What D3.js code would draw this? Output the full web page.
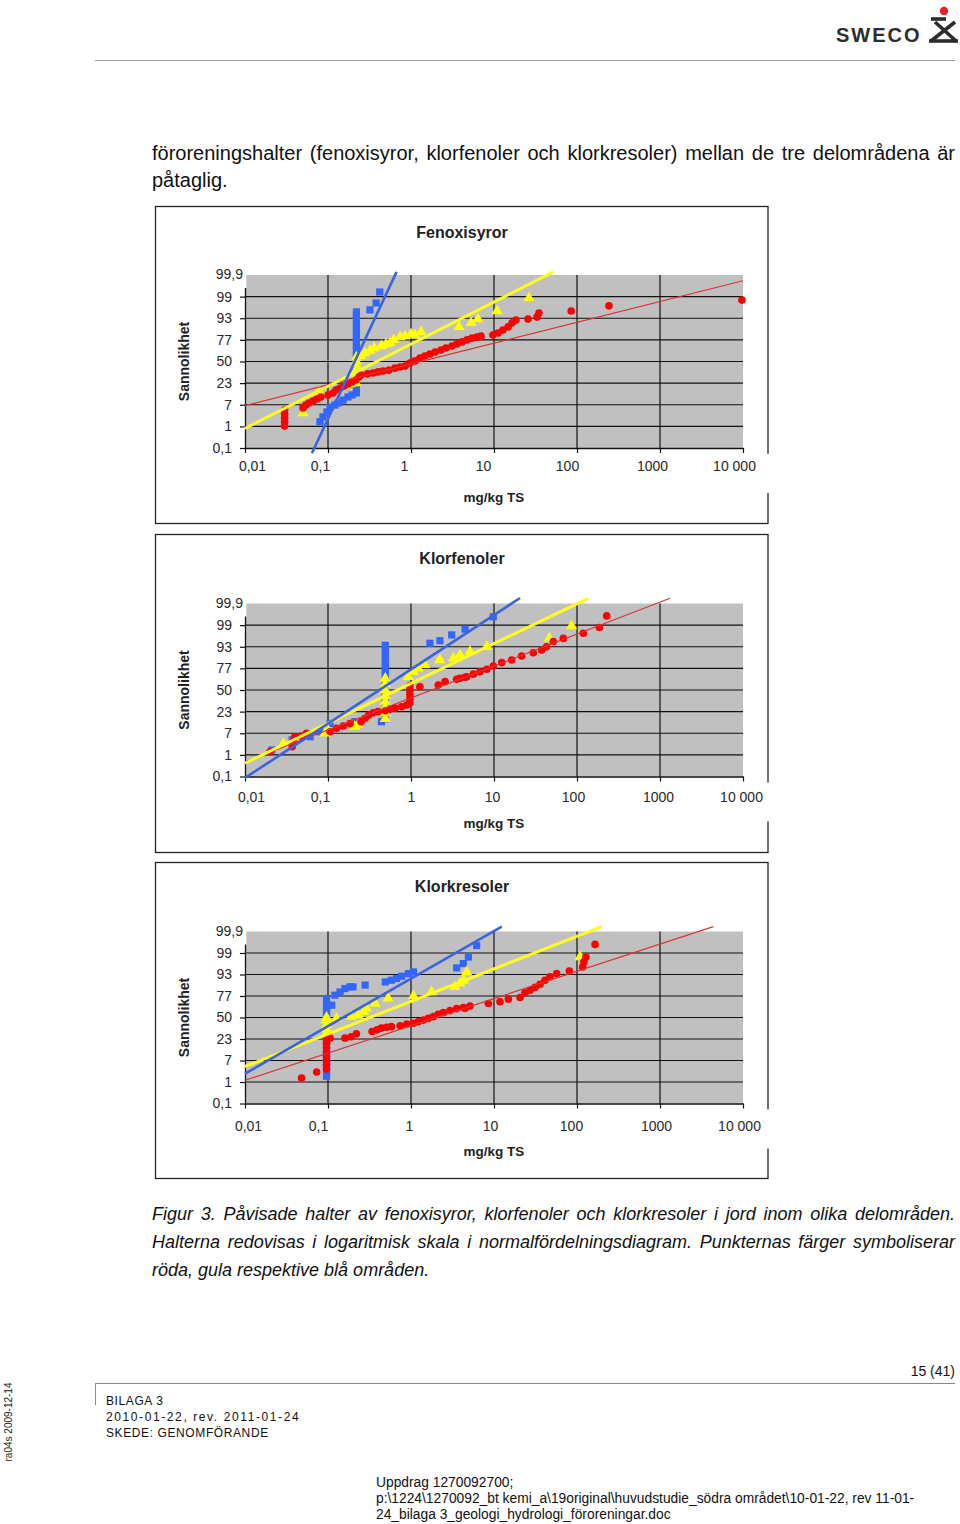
<!DOCTYPE html>
<html><head><meta charset="utf-8">
<script src="https://cdn.jsdelivr.net/npm/d3@7"></script>
<style>
html,body{margin:0;padding:0;background:#fff;}
svg{display:block;}
text{font-family:"Liberation Sans",Arial,Helvetica,sans-serif;}
</style></head><body>
<svg id="page" width="960" height="1524"></svg>
<script>
// ---------------- DATA ----------------
// x: concentration mg/kg TS (log axis); z: normal score (probability axis)
const xTickValues = [0.01, 0.1, 1, 10, 100, 1000, 10000];
const xTickLabels = ["0,01", "0,1", "1", "10", "100", "1000", "10 000"];
const yTickScores = [-3, -2.25, -1.5, -0.75, 0, 0.75, 1.5, 2.25, 3];
const yTickLabels = ["0,1", "1", "7", "23", "50", "77", "93", "99", "99,9"];
const chartTitles = ["Fenoxisyror", "Klorfenoler", "Klorkresoler"];
const yAxisTitle = "Sannolikhet";
const xAxisTitle = "mg/kg TS";

// Fenoxisyror
const fenoxRed = [[0.030,-1.68],[0.030,-1.82],[0.030,-1.96],[0.030,-2.10],[0.030,-2.24],
 [0.050,-1.61],[0.054,-1.51],[0.059,-1.44],[0.066,-1.37],[0.074,-1.30],[0.082,-1.23],
 [0.10,-1.16],[0.115,-1.09],[0.125,-0.99],[0.14,-0.92],[0.156,-0.85],[0.174,-0.78],[0.195,-0.71],[0.217,-0.64],[0.236,-0.54],[0.25,-0.47],
 [0.30,-0.43],[0.35,-0.40],[0.40,-0.36],[0.46,-0.33],[0.54,-0.30],[0.64,-0.23],[0.74,-0.19],[0.85,-0.16],[0.97,-0.05],
 [1.12,0.02],[1.28,0.12],[1.47,0.19],[1.69,0.26],[1.95,0.33],[2.3,0.40],[2.64,0.47],[3.12,0.54],[3.58,0.61],[4.12,0.68],[4.73,0.75],[5.43,0.81],[6.24,0.85],[6.97,0.88],
 [9.7,0.92],[11.2,0.99],[12.8,1.09],[14.8,1.20],[16.5,1.34],[18.4,1.44],[25.7,1.47],[33,1.54],[34.8,1.68],[85,1.75],[243,1.93],[9700,2.13]];
const fenoxYellow = [[0.050,-1.79],[0.078,-1.06],[0.16,-0.85],[0.184,-0.78],[0.217,-0.75],
 [0.22,-0.6],[0.22,-0.45],[0.22,-0.3],[0.22,-0.15],[0.22,0.0],[0.22,0.15],
 [0.25,0.19],[0.28,0.29],[0.32,0.37],[0.36,0.47],[0.44,0.54],[0.50,0.60],[0.56,0.64],[0.62,0.75],[0.74,0.85],[0.85,0.88],[1.0,0.95],[1.12,0.92],[1.32,1.02],
 [3.79,1.20],[5.28,1.34],[6.41,1.47],[10.9,1.75],[26.4,2.20]];
const fenoxBlue = [[0.080,-2.09],[0.087,-1.92],[0.097,-1.75],[0.106,-1.58],[0.121,-1.51],[0.132,-1.44],[0.152,-1.34],[0.174,-1.23],[0.195,-1.16],[0.22,-1.09],
 [0.22,-0.95],[0.22,-0.8],[0.22,-0.65],[0.22,-0.5],[0.22,-0.35],[0.22,-0.2],[0.22,-0.05],[0.22,0.1],[0.22,0.25],[0.22,0.4],[0.22,0.55],[0.22,0.7],[0.22,0.85],[0.22,1.0],[0.22,1.15],[0.22,1.3],[0.22,1.45],[0.22,1.6],[0.22,1.72],
 [0.32,1.79],[0.38,2.03],[0.42,2.41]];
const fenoxRedTrend = [[0.01,-1.53],[10000,2.80]];
const fenoxYellowTrend = [[0.01,-2.32],[52,3.11]];
const fenoxBlueTrend = [[0.064,-3.18],[0.67,3.11]];

// Klorfenoler
const klorfRed = [[0.020,-2.14],[0.037,-1.97],[0.038,-1.79],[0.040,-1.62],[0.048,-1.60],[0.055,-1.50],
 [0.106,-1.45],[0.127,-1.33],[0.153,-1.25],[0.184,-1.16],[0.25,-1.10],[0.28,-0.98],[0.31,-0.87],[0.35,-0.79],[0.40,-0.75],[0.49,-0.72],[0.56,-0.67],[0.64,-0.63],[0.77,-0.58],[0.89,-0.52],
 [0.97,-0.45],[0.97,-0.3],[0.97,-0.15],[0.97,0.0],[0.97,0.15],
 [1.28,0.11],[2.13,0.17],[2.57,0.29],[3.55,0.37],[3.89,0.41],[4.48,0.44],[4.69,0.46],[5.64,0.55],[6.78,0.63],[8.2,0.72],[9.8,0.83],[12.4,0.95],[16.3,1.04],[21.5,1.18],[29.7,1.29],[37.5,1.39],[43,1.50],[51.8,1.68],[68.4,1.79],[119,1.97],[186,2.17],[228,2.57]];
const klorfYellow = [[0.029,-1.85],[0.092,-1.50],[0.10,-1.39],[0.21,-1.27],[0.23,-1.21],
 [0.49,-1.0],[0.49,-0.8],[0.49,-0.6],[0.49,-0.4],[0.49,-0.2],[0.49,0.0],[0.49,0.2],[0.49,0.4],
 [0.93,0.46],[1.07,0.63],[1.22,0.75],[1.47,0.87],[2.23,1.04],[3.24,1.10],[3.89,1.21],[5.14,1.33],[8.2,1.50],[46.4,1.79],[86,2.22]];
const klorfBlue = [[0.021,-2.08],[0.037,-1.73],[0.061,-1.62],[0.080,-1.45],[0.106,-1.16],[0.21,-1.10],[0.44,-1.10],
 [0.49,-1.0],[0.49,-0.85],[0.49,-0.7],[0.49,-0.55],[0.49,-0.4],[0.49,-0.25],[0.49,-0.1],[0.49,0.05],[0.49,0.2],[0.49,0.35],[0.49,0.5],[0.49,0.65],[0.49,0.8],[0.49,0.95],[0.49,1.1],[0.49,1.25],[0.49,1.4],[0.49,1.55],
 [1.69,1.62],[2.23,1.71],[3.09,1.91],[4.48,2.11],[9.8,2.54]];
const klorfRedTrend = [[0.01,-2.49],[1320,3.18]];
const klorfYellowTrend = [[0.01,-2.54],[137,3.18]];
const klorfBlueTrend = [[0.01,-3.05],[20.6,3.19]];

// Klorkresoler
const klorkRed = [[0.048,-2.11],[0.073,-1.90],
 [0.096,-1.8],[0.096,-1.65],[0.096,-1.5],[0.096,-1.35],[0.096,-1.2],[0.096,-1.05],[0.096,-0.9],[0.096,-0.75],
 [0.106,-0.72],[0.16,-0.72],[0.19,-0.67],[0.22,-0.57],[0.34,-0.49],[0.39,-0.43],[0.44,-0.37],[0.51,-0.34],[0.58,-0.32],[0.74,-0.29],[0.89,-0.23],[1.07,-0.20],[1.22,-0.15],[1.41,-0.09],[1.62,-0.03],[1.86,0.03],[2.13,0.11],[2.45,0.17],[2.95,0.24],[3.55,0.31],[4.27,0.35],[4.48,0.32],[5.14,0.40],
 [8.55,0.49],[11.8,0.55],[14.9,0.64],[20.6,0.70],[23.6,0.86],[27.2,0.95],[31.2,1.05],[35.8,1.16],[41.1,1.30],[47.3,1.42],[56.9,1.53],[80.9,1.62],[117,1.76],[121,1.94],[128,2.11],[165,2.55]];
const klorkYellow = [[0.096,-0.55],[0.096,-0.4],[0.096,-0.25],[0.096,-0.1],[0.096,0.0],
 [0.127,-0.03],[0.19,0.03],[0.23,0.09],[0.27,0.20],[0.29,0.32],[0.37,0.49],[0.53,0.67],[1.07,0.75],[1.77,0.89],[3.39,1.07],[3.89,1.19],[4.3,1.30],[4.69,1.59],[109,2.11]];
const klorkBlue = [[0.096,-2.05],[0.096,-1.9],[0.096,-1.75],[0.096,-1.6],[0.096,-1.45],[0.096,-1.3],[0.096,-1.15],[0.096,-1.0],[0.096,-0.85],[0.096,-0.7],[0.096,-0.55],[0.096,-0.4],[0.096,-0.25],[0.096,-0.1],[0.096,0.05],[0.096,0.2],[0.096,0.35],[0.096,0.5],[0.096,0.65],
 [0.111,0.43],[0.121,0.78],[0.14,0.89],[0.16,1.01],[0.184,1.07],[0.20,1.07],[0.28,1.13],[0.49,1.24],[0.58,1.30],[0.67,1.36],[0.77,1.44],[0.93,1.53],[1.07,1.59],[3.55,1.73],[4.27,1.88],[4.91,2.11],[6.18,2.51]];
const klorkRedTrend = [[0.01,-2.19],[4390,3.17]];
const klorkYellowTrend = [[0.01,-1.71],[198,3.17]];
const klorkBlueTrend = [[0.01,-1.96],[12.4,3.17]];

// ---------------- PAGE TEXT ----------------
const paraLines = ["föroreningshalter (fenoxisyror, klorfenoler och klorkresoler) mellan de tre delområdena är", "påtaglig."];
const captionLines = ["Figur 3. Påvisade halter av fenoxisyror, klorfenoler och klorkresoler i jord inom olika delområden.",
 "Halterna redovisas i logaritmisk skala i normalfördelningsdiagram. Punkternas färger symboliserar",
 "röda, gula respektive blå områden."];
const footerLeft = ["BILAGA 3", "2010-01-22, rev. 2011-01-24", "SKEDE: GENOMFÖRANDE"];
const footerRight = ["Uppdrag 1270092700;", "p:\\1224\\1270092_bt kemi_a\\19original\\huvudstudie_södra området\\10-01-22, rev 11-01-", "24_bilaga 3_geologi_hydrologi_föroreningar.doc"];

// ---------------- DRAW ----------------
const svg = d3.select("#page");
const FONT = "'Liberation Sans', Arial, sans-serif";
const col = {red:"#ff0000", yellow:"#ffff00", blue:"#3366ff", redLine:"#d83535", yellowLine:"#ffff1a", blueLine:"#3a64e0"};

const x = d3.scaleLog().domain([0.01, 10000]).range([245, 743]);

const layouts = [
  {box:[206,523], plot:[275,448], titleY:238, tickY:471, unitY:502, dx:[7,-8,-7,-11,-10,-8,-9]},
  {box:[534,852], plot:[603.5,776.5], titleY:564, tickY:802, unitY:828, dx:[6,-8,0,-2,-4,-2,-2]},
  {box:[862,1178], plot:[931.5,1103.5], titleY:892, tickY:1131, unitY:1156, dx:[3,-10,-2,-4,-6,-4,-4]}
];
const seriesSets = [
  {red:fenoxRed, yellow:fenoxYellow, blue:fenoxBlue, trends:[[fenoxRedTrend,"redLine",1.2],[fenoxYellowTrend,"yellowLine",3],[fenoxBlueTrend,"blueLine",2.6]]},
  {red:klorfRed, yellow:klorfYellow, blue:klorfBlue, trends:[[klorfRedTrend,"redLine",1.2],[klorfYellowTrend,"yellowLine",3],[klorfBlueTrend,"blueLine",2.6]]},
  {red:klorkRed, yellow:klorkYellow, blue:klorkBlue, trends:[[klorkRedTrend,"redLine",1.2],[klorkYellowTrend,"yellowLine",3],[klorkBlueTrend,"blueLine",2.6]]}
];

layouts.forEach((L, ci) => {
  const S = seriesSets[ci];
  const g = svg.append("g");
  const y = d3.scaleLinear().domain([-3, 3]).range([L.plot[1], L.plot[0]]);
  const [x0, x1] = x.range();

  g.append("rect").attr("x", 155.5).attr("y", L.box[0] + 0.5).attr("width", 612.5).attr("height", L.box[1] - L.box[0])
    .attr("fill", "#fff").attr("stroke", "#262626").attr("stroke-width", 1.3);
  g.append("rect").attr("x", 722).attr("y", L.plot[1] + 6).attr("width", 50).attr("height", 39).attr("fill", "#fff");

  g.append("rect").attr("x", x0).attr("y", L.plot[0]).attr("width", x1 - x0).attr("height", L.plot[1] - L.plot[0]).attr("fill", "#c0c0c0");

  g.selectAll(".hg").data(yTickScores.filter(d => d > -3 && d < 3)).join("line")
    .attr("x1", x0).attr("x2", x1).attr("y1", d => y(d)).attr("y2", d => y(d))
    .attr("stroke", "#111").attr("stroke-width", 1.2);
  g.selectAll(".vg").data(xTickValues.slice(1, -1)).join("line")
    .attr("x1", d => x(d)).attr("x2", d => x(d)).attr("y1", L.plot[0]).attr("y2", L.plot[1])
    .attr("stroke", "#111").attr("stroke-width", 1.2);

  const ya = g.append("g").attr("transform", `translate(${x0},0)`)
    .call(d3.axisLeft(y).tickValues(yTickScores).tickFormat((d, i) => yTickLabels[i]).tickSize(5).tickSizeOuter(0).tickPadding(8));
  ya.select(".domain").attr("stroke", "#111").attr("stroke-width", 1.3);
  ya.selectAll(".tick line").attr("stroke", "#111").attr("stroke-width", 1.2);
  ya.selectAll(".tick text").attr("font-family", FONT).attr("font-size", 14).attr("fill", "#2a2a2a");

  const xa = g.append("g").attr("transform", `translate(0,${L.plot[1]})`)
    .call(d3.axisBottom(x).tickValues(xTickValues).tickFormat((d, i) => xTickLabels[i]).tickSize(5).tickSizeOuter(0));
  xa.select(".domain").attr("stroke", "#111").attr("stroke-width", 1.3);
  xa.selectAll(".tick line").attr("stroke", "#111").attr("stroke-width", 1.2);
  xa.selectAll(".tick text").attr("font-family", FONT).attr("font-size", 14).attr("fill", "#2a2a2a")
    .attr("y", L.tickY - L.plot[1]).attr("dy", 0).attr("dx", (d, i) => L.dx[i]);

  // white box behind top label "99,9" (covers the axis top)
  g.append("rect").attr("x", 212).attr("y", L.plot[0] - 6).attr("width", 34.5).attr("height", 19).attr("fill", "#fff");
  const topTick = ya.selectAll(".tick").filter(d => d === 3);
  topTick.select("line").remove();
  g.node().appendChild(topTick.node());
  topTick.attr("transform", `translate(${x0},${y(3)})`);
  topTick.select("text").attr("x", -2).attr("text-anchor", "end").attr("dy", "0.32em")
    .attr("font-family", FONT).attr("font-size", 14).attr("fill", "#2a2a2a");

  g.append("text").attr("x", 462).attr("y", L.titleY).attr("text-anchor", "middle")
    .attr("font-family", FONT).attr("font-weight", "bold").attr("font-size", 16).attr("fill", "#222").text(chartTitles[ci]);
  g.append("text").attr("x", 494).attr("y", L.unitY).attr("text-anchor", "middle")
    .attr("font-family", FONT).attr("font-weight", "bold").attr("font-size", 13.5).attr("fill", "#222").text(xAxisTitle);
  g.append("text").attr("transform", `translate(189,${(L.plot[0] + L.plot[1]) / 2}) rotate(-90)`).attr("text-anchor", "middle")
    .attr("font-family", FONT).attr("font-weight", "bold").attr("font-size", 14).attr("fill", "#222").text(yAxisTitle);

  g.append("g").selectAll("rect").data(S.blue).join("rect")
    .attr("x", d => x(d[0]) - 3.6).attr("y", d => y(d[1]) - 3.6).attr("width", 7.2).attr("height", 7.2).attr("fill", col.blue);
  const tri = d3.symbol(d3.symbolTriangle, 54);
  g.append("g").selectAll("path").data(S.yellow).join("path")
    .attr("d", tri).attr("transform", d => `translate(${x(d[0])},${y(d[1])})`).attr("fill", col.yellow);
  g.append("g").selectAll("circle").data(S.red).join("circle")
    .attr("cx", d => x(d[0])).attr("cy", d => y(d[1])).attr("r", 3.8).attr("fill", col.red);

  const line = d3.line().x(d => x(d[0])).y(d => y(d[1]));
  S.trends.forEach(([pts, c, w]) => {
    g.append("path").attr("d", line(pts)).attr("fill", "none").attr("stroke", col[c]).attr("stroke-width", w);
  });
});

// ---------------- header ----------------
svg.append("line").attr("x1", 95).attr("x2", 955).attr("y1", 60.5).attr("y2", 60.5).attr("stroke", "#9a9a9a").attr("stroke-width", 1);
svg.append("text").attr("x", 836).attr("y", 42).attr("font-family", FONT).attr("font-weight", "bold").attr("font-size", 20)
  .attr("letter-spacing", 2).attr("fill", "#2d2d2d").text("SWECO");
const logo = svg.append("g").attr("stroke", "#2d2d2d").attr("stroke-width", 3.6).attr("stroke-linecap", "butt").attr("fill", "none");
logo.append("line").attr("x1", 931).attr("y1", 19).attr("x2", 946).attr("y2", 19);
logo.append("line").attr("x1", 935).attr("y1", 22).attr("x2", 956).attr("y2", 41);
logo.append("line").attr("x1", 955).attr("y1", 22).attr("x2", 931).attr("y2", 41);
logo.append("line").attr("x1", 929).attr("y1", 41).attr("x2", 958).attr("y2", 41);
svg.append("circle").attr("cx", 944).attr("cy", 11).attr("r", 4.2).attr("fill", "#e8202a");

// ---------------- body text ----------------
function justify(sel, width) {
  const n = sel.text().split(" ").length - 1;
  const w = sel.node().getComputedTextLength();
  if (n > 0) sel.attr("word-spacing", (width - w) / n);
}
paraLines.forEach((t, i) => {
  const s = svg.append("text").attr("x", 152).attr("y", 160 + i * 27).attr("font-family", FONT).attr("font-size", 20).attr("fill", "#111").text(t);
  if (i === 0) justify(s, 803);
});
captionLines.forEach((t, i) => {
  const s = svg.append("text").attr("x", 152).attr("y", 1220 + i * 28).attr("font-family", FONT).attr("font-style", "italic").attr("font-size", 18).attr("fill", "#111").text(t);
  if (i < 2) justify(s, 803);
});

// ---------------- footer ----------------
svg.append("text").attr("x", 955).attr("y", 1376).attr("text-anchor", "end").attr("font-family", FONT).attr("font-size", 14).attr("fill", "#111").text("15 (41)");
svg.append("line").attr("x1", 95).attr("x2", 955).attr("y1", 1383.5).attr("y2", 1383.5).attr("stroke", "#8a8a8a");
svg.append("line").attr("x1", 95.5).attr("x2", 95.5).attr("y1", 1383).attr("y2", 1405).attr("stroke", "#8a8a8a");
footerLeft.forEach((t, i) => {
  svg.append("text").attr("x", 106).attr("y", 1405 + i * 16).attr("font-family", FONT).attr("font-size", 12)
    .attr("letter-spacing", i === 1 ? 1.6 : 0.6).attr("fill", "#111").text(t);
});
svg.append("text").attr("transform", "translate(12,1422) rotate(-90)").attr("text-anchor", "middle")
  .attr("font-family", FONT).attr("font-size", 10).attr("fill", "#222").text("ra04s 2009-12-14");
footerRight.forEach((t, i) => {
  svg.append("text").attr("x", 376).attr("y", 1487 + i * 16).attr("font-family", FONT).attr("font-size", 13.8)
    .attr("fill", "#111").text(t);
});
</script>
</body></html>
